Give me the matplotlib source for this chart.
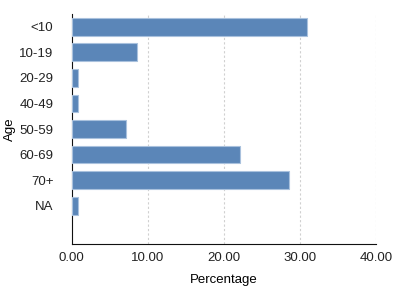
import matplotlib
matplotlib.use("Agg")
import matplotlib.pyplot as plt

categories = ["<10", "10-19", "20-29", "40-49", "50-59", "60-69", "70+", "NA"]
values = [30.9, 8.6, 0.8, 0.8, 7.1, 22.1, 28.5, 0.8]
xticks = [0, 10, 20, 30, 40]
xticklabels = ["0.00", "10.00", "20.00", "30.00", "40.00"]

plt.rcParams['font.family'] = ['Liberation Sans', 'DejaVu Sans']

fig = plt.figure(figsize=(3.93, 2.87), dpi=100)
ax = fig.add_axes([0.182, 0.150, 0.776, 0.801])

pos = list(range(len(categories)))
ax.barh(pos, values, height=0.7, color="#5b86b8", edgecolor="#a9c1dd", linewidth=0.8, zorder=3)
ax.set_ylim(len(categories) + 0.5, -0.5)
ax.set_xlim(0, 40)
ax.set_yticks(pos)
ax.set_yticklabels(categories)
ax.set_xticks(xticks)
ax.set_xticklabels(xticklabels)
ax.tick_params(axis='both', length=0, labelsize=9.5, colors="#222222", pad=6)
ax.tick_params(axis='y', pad=13)
for x in xticks[1:]:
    ax.axvline(x, color="#d0d0d0", linestyle=(0, (2, 2)), linewidth=0.8, zorder=1)
for s in ["top", "right"]:
    ax.spines[s].set_visible(False)
ax.spines["left"].set_color("#111111")
ax.spines["bottom"].set_color("#111111")
ax.set_xlabel("Percentage", fontsize=9.5, labelpad=7)
ax.set_ylabel("Age", fontsize=9.5, labelpad=2)

fig.savefig("out.png", dpi=100)
